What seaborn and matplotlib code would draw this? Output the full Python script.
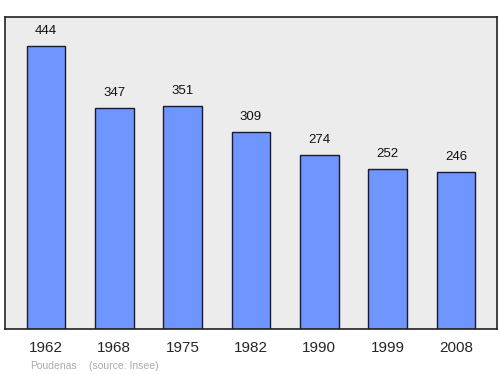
import matplotlib
matplotlib.use("Agg")
import matplotlib.pyplot as plt
import seaborn as sns
import pandas as pd

years = ["1962", "1968", "1975", "1982", "1990", "1999", "2008"]
population = [444, 347, 351, 309, 274, 252, 246]

sns.set_style("white")
plt.rcParams['font.family'] = ['Liberation Sans', 'DejaVu Sans']

df = pd.DataFrame({"year": years, "pop": population})

fig = plt.figure(figsize=(5, 3.74), dpi=100)
ax = fig.add_axes([0.01, 0.1203, 0.984, 0.8342])
ax.set_facecolor("#ececec")
sns.barplot(data=df, x="year", y="pop", ax=ax, color="#6f96ff", saturation=1,
            width=0.57, edgecolor="#1a1a2e", linewidth=1.0)
for i, v in enumerate(population):
    ax.text(i, v + 14, str(v), ha="center", va="bottom", fontsize=9.5, color="#111111")
ax.set_xlim(-0.6, 6.6)
ax.set_ylim(0, 490)
ax.set_yticks([])
ax.set_xlabel("")
ax.set_ylabel("")
ax.tick_params(axis="x", length=0, labelsize=11, pad=8.5)
for s in ax.spines.values():
    s.set_visible(True)
    s.set_color("#222222")
    s.set_linewidth(1.2)
fig.text(0.06, 0.014, "Poudenas", fontsize=7.5, color="#aaaaaa")
fig.text(0.178, 0.014, "(source: Insee)", fontsize=7.5, color="#aaaaaa")
fig.savefig("out.png", dpi=100, facecolor="white")
